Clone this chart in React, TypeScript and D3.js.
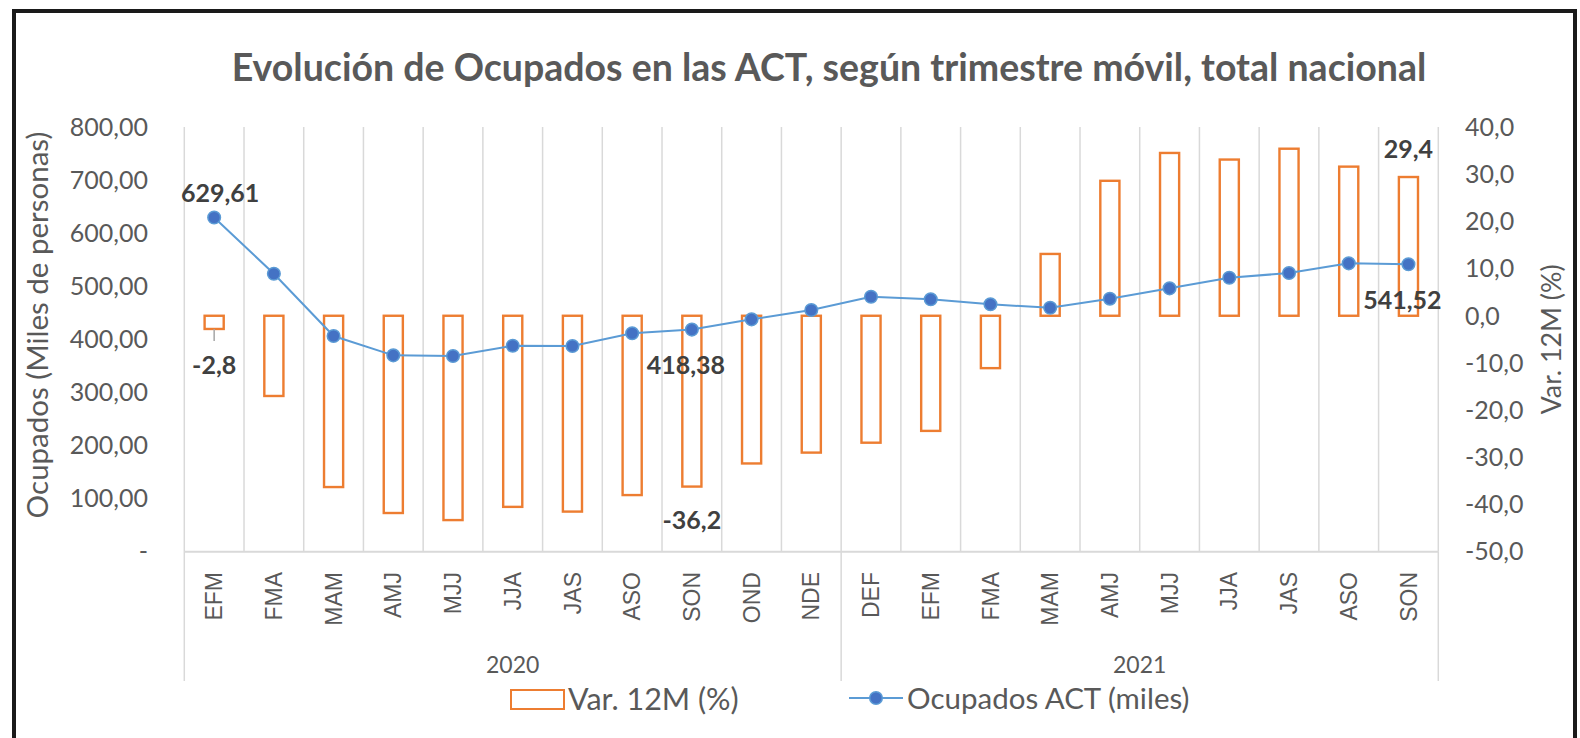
import React from "react"
import * as d3 from "d3"

const width = 1580
const height = 738

const title = "Evolución de Ocupados en las ACT, según trimestre móvil, total nacional"
const years = ["2020", "2021"]
const periods2020 = ["EFM", "FMA", "MAM", "AMJ", "MJJ", "JJA", "JAS", "ASO", "SON", "OND", "NDE"]
const periods2021 = ["DEF", "EFM", "FMA", "MAM", "AMJ", "MJJ", "JJA", "JAS", "ASO", "SON"]
const ocupados = [
  629.61, 523.6, 406.3, 369.9, 368.6, 388.0, 387.5, 411.4, 418.38, 437.7, 455.3,
  480.3, 475.4, 466.0, 459.6, 476.6, 496.1, 516.1, 524.9, 543.2, 541.52,
]
const var12m = [
  -2.8, -17.0, -36.3, -41.8, -43.3, -40.5, -41.5, -38.0, -36.2, -31.3, -29.0,
  -26.9, -24.4, -11.1, 13.1, 28.6, 34.5, 33.1, 35.4, 31.6, 29.4,
]
const leftTicks = [0, 100, 200, 300, 400, 500, 600, 700, 800]
const rightTicks = [-50, -40, -30, -20, -10, 0, 10, 20, 30, 40]
// indices that carry a data label in the original
const lineLabelIdx = [0, 8, 20]
const barLabelIdx = [0, 8, 20]

const locale = d3.formatLocale({
  decimal: ",",
  thousands: ".",
  grouping: [3],
  currency: ["", ""],
  minus: "-",
})
const fmt2 = locale.format(".2f")
const fmt1 = locale.format(".1f")

const grey = "#595959"
const orange = "#ED7D31"
const lineBlue = "#5B9BD5"
const markBlue = "#4472C4"
const font = "Lato, 'Open Sans', sans-serif"

export default function App() {
  const left = 184.3
  const right = 1438.3
  const top = 127
  const bottom = 551.7

  const cats = [
    ...periods2020.map(p => ({ year: years[0], p })),
    ...periods2021.map(p => ({ year: years[1], p })),
  ]
  const idx = cats.map((_, i) => i)

  const x = d3.scaleBand<number>().domain(idx).range([left, right]).padding(0)
  const step = x.step()
  const barW = step * 0.32
  const cx = (i: number) => (x(i) as number) + step / 2

  const yL = d3.scaleLinear().domain([0, 800]).range([bottom, top])
  const yR = d3.scaleLinear().domain([-50, 40]).range([bottom, top])

  const line = d3
    .line<number>()
    .x((_, i) => cx(i))
    .y(d => yL(d))

  // year group boundaries
  const groupStarts = [0, periods2020.length, cats.length]

  return (
    <div style={{ position: "absolute", left: 0, top: 0 }}>
      <svg width={width} height={height} style={{ display: "block", background: "#fff" }}>
        <rect x={0} y={0} width={width} height={height} fill="#fff" />
        <rect x={14} y={11} width={1561} height={760} fill="none" stroke="#1a1a1a" strokeWidth={4} />

        <text
          x={829}
          y={81}
          textAnchor="middle"
          fontFamily={font}
          fontWeight="bold"
          fontSize={37.5}
          fill={grey}
        >
          {title}
        </text>

        {/* vertical gridlines */}
        {d3.range(cats.length + 1).map(i => (
          <line
            key={"g" + i}
            x1={left + i * step}
            x2={left + i * step}
            y1={top}
            y2={bottom}
            stroke="#D9D9D9"
            strokeWidth={1.5}
          />
        ))}
        <line x1={left} x2={right} y1={bottom} y2={bottom} stroke="#D9D9D9" strokeWidth={2} />
        {groupStarts.map(g => (
          <line
            key={"gs" + g}
            x1={left + g * step}
            x2={left + g * step}
            y1={bottom}
            y2={681}
            stroke="#D9D9D9"
            strokeWidth={1.5}
          />
        ))}

        {/* left axis */}
        {leftTicks.map(t => (
          <text
            key={"l" + t}
            x={148}
            y={yL(t)}
            dy="0.35em"
            textAnchor="end"
            fontFamily={font}
            fontSize={25}
            fill={grey}
          >
            {t === 0 ? "-" : fmt2(t)}
          </text>
        ))}
        <text
          transform="translate(38,325) rotate(-90)"
          textAnchor="middle"
          dy="0.35em"
          fontFamily={font}
          fontSize={29.5}
          fill={grey}
        >
          Ocupados (Miles de personas)
        </text>

        {/* right axis */}
        {rightTicks.map(t => (
          <text
            key={"r" + t}
            x={1465}
            y={yR(t)}
            dy="0.35em"
            textAnchor="start"
            fontFamily={font}
            fontSize={25}
            fill={grey}
          >
            {fmt1(t)}
          </text>
        ))}
        <text
          transform={`translate(1552,${(top + bottom) / 2}) rotate(-90)`}
          textAnchor="middle"
          dy="0.35em"
          fontFamily={font}
          fontSize={26.8}
          fill={grey}
        >
          Var. 12M (%)
        </text>

        {/* bars */}
        {var12m.map((v, i) => (
          <rect
            key={"b" + i}
            x={cx(i) - barW / 2}
            y={Math.min(yR(v), yR(0))}
            width={barW}
            height={Math.abs(yR(v) - yR(0))}
            fill="#fff"
            stroke={orange}
            strokeWidth={2.4}
          />
        ))}

        {/* line */}
        <path d={line(ocupados) || ""} fill="none" stroke={lineBlue} strokeWidth={2} />
        {ocupados.map((v, i) => (
          <circle key={"c" + i} cx={cx(i)} cy={yL(v)} r={6.3} fill={markBlue} stroke={lineBlue} strokeWidth={1.5} />
        ))}

        {/* data labels */}
        {barLabelIdx.map(i => {
          const v = var12m[i]
          const neg = v < 0
          const yEnd = yR(v)
          const small = Math.abs(yEnd - yR(0)) < 20
          const ly = neg ? yEnd + (small ? 36 : 34) : yEnd - 28
          return (
            <g key={"bl" + i}>
              {small && (
                <line x1={cx(i)} x2={cx(i)} y1={yEnd} y2={yEnd + 12} stroke="#A6A6A6" strokeWidth={1.5} />
              )}
              <text
                x={cx(i)}
                y={ly}
                dy="0.35em"
                textAnchor="middle"
                fontFamily={font}
                fontWeight="bold"
                fontSize={25}
                fill="#404040"
              >
                {fmt1(v)}
              </text>
            </g>
          )
        })}
        {lineLabelIdx.map(i => {
          const v = ocupados[i]
          const above = i === 0
          const ly = above ? yL(v) - 24 : yL(v) + 36
          return (
            <text
              key={"ll" + i}
              x={cx(i) + (above ? 6 : -6)}
              y={ly}
              dy="0.35em"
              textAnchor="middle"
              fontFamily={font}
              fontWeight="bold"
              fontSize={25}
              fill="#404040"
            >
              {fmt2(v)}
            </text>
          )
        })}

        {/* category labels */}
        {cats.map((c, i) => (
          <text
            key={"x" + i}
            transform={`translate(${cx(i)},572) rotate(-90)`}
            textAnchor="end"
            dy="0.35em"
            fontFamily="'Liberation Sans', Arial, sans-serif"
            fontSize={23}
            fill={grey}
          >
            {c.p}
          </text>
        ))}
        {years.map((yr, k) => (
          <text
            key={yr}
            x={(left + groupStarts[k] * step + left + groupStarts[k + 1] * step) / 2}
            y={665}
            dy="0.35em"
            textAnchor="middle"
            fontFamily={font}
            fontSize={23}
            fill={grey}
          >
            {yr}
          </text>
        ))}

        {/* legend */}
        <rect x={511} y={690} width={53} height={19} fill="#fff" stroke={orange} strokeWidth={2} />
        <text x={568} y={699} dy="0.35em" fontFamily={font} fontSize={30.5} fill={grey}>
          Var. 12M (%)
        </text>
        <line x1={849} x2={903} y1={698} y2={698} stroke={lineBlue} strokeWidth={2} />
        <circle cx={876} cy={698} r={6.3} fill={markBlue} stroke={lineBlue} strokeWidth={1.5} />
        <text x={907} y={699} dy="0.35em" fontFamily={font} fontSize={29.5} fill={grey}>
          Ocupados ACT (miles)
        </text>
      </svg>
    </div>
  )
}
